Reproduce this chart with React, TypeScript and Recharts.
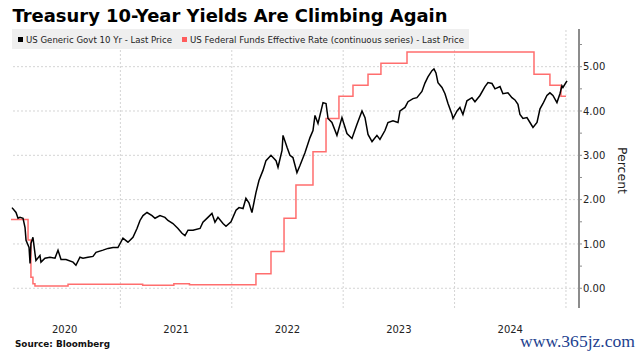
import React from 'react';
import { LineChart, Line, XAxis, YAxis, ReferenceLine, Legend } from 'recharts';

// US Generic Govt 10 Yr (decimal-year dates, percent)
const tenYearDates = [
  2020.027, 2020.063, 2020.081, 2020.099, 2020.126, 2020.144, 2020.153, 2020.180, 2020.189, 2020.197,
  2020.215, 2020.233, 2020.242, 2020.278, 2020.287, 2020.323, 2020.368, 2020.413, 2020.440, 2020.467,
  2020.512, 2020.575, 2020.601, 2020.637, 2020.664, 2020.709, 2020.754, 2020.781, 2020.844, 2020.889,
  2020.934, 2020.978, 2021.023, 2021.068, 2021.113, 2021.149, 2021.176, 2021.203, 2021.239, 2021.284,
  2021.311, 2021.355, 2021.400, 2021.427, 2021.472, 2021.517, 2021.553, 2021.580, 2021.607, 2021.652,
  2021.715, 2021.741, 2021.786, 2021.822, 2021.849, 2021.876, 2021.921, 2021.948, 2021.993, 2022.038,
  2022.065, 2022.101, 2022.127, 2022.154, 2022.181, 2022.217, 2022.244, 2022.280, 2022.307, 2022.352,
  2022.397, 2022.415, 2022.451, 2022.460, 2022.496, 2022.522, 2022.549, 2022.585, 2022.612, 2022.657,
  2022.702, 2022.729, 2022.747, 2022.774, 2022.819, 2022.846, 2022.864, 2022.899, 2022.944, 2022.989,
  2023.034, 2023.079, 2023.124, 2023.169, 2023.196, 2023.223, 2023.259, 2023.303, 2023.330, 2023.375,
  2023.402, 2023.447, 2023.492, 2023.510, 2023.555, 2023.582, 2023.627, 2023.662, 2023.707, 2023.734,
  2023.761, 2023.797, 2023.815, 2023.833, 2023.851, 2023.887, 2023.914, 2023.941, 2023.977, 2023.986,
  2024.022, 2024.048, 2024.075, 2024.111, 2024.156, 2024.183, 2024.228, 2024.273, 2024.300, 2024.336,
  2024.363, 2024.408, 2024.434, 2024.479, 2024.515, 2024.542, 2024.569, 2024.587, 2024.614, 2024.650,
  2024.677, 2024.704, 2024.740, 2024.767, 2024.794, 2024.829, 2024.856, 2024.883, 2024.919, 2024.946,
  2024.964, 2024.973, 2025.009,
];
const tenYearValues = [
  1.82, 1.71, 1.58, 1.60, 1.58, 1.37, 1.08, 0.92, 0.56, 1.01,
  1.15, 0.79, 0.63, 0.74, 0.59, 0.68, 0.70, 0.68, 0.86, 0.65,
  0.65, 0.59, 0.52, 0.70, 0.68, 0.70, 0.72, 0.81, 0.86, 0.90,
  0.92, 0.92, 1.13, 1.04, 1.15, 1.35, 1.53, 1.64, 1.71, 1.64,
  1.58, 1.64, 1.60, 1.53, 1.46, 1.35, 1.24, 1.19, 1.31, 1.31,
  1.35, 1.49, 1.60, 1.69, 1.49, 1.60, 1.46, 1.40, 1.50, 1.76,
  1.82, 1.80, 2.03, 1.93, 1.71, 2.16, 2.43, 2.66, 2.88, 3.00,
  2.88, 2.73, 3.11, 3.45, 3.18, 3.00, 2.95, 2.61, 2.77, 3.06,
  3.40, 3.56, 3.90, 3.72, 4.19, 4.17, 3.83, 3.74, 3.45, 3.85,
  3.49, 3.38, 3.70, 4.00, 3.85, 3.47, 3.31, 3.45, 3.36, 3.56,
  3.74, 3.78, 3.74, 4.00, 4.08, 4.21, 4.28, 4.30, 4.44, 4.63,
  4.77, 4.91, 4.95, 4.86, 4.64, 4.53, 4.39, 4.17, 3.92, 3.83,
  4.00, 4.08, 3.92, 4.23, 4.30, 4.21, 4.35, 4.55, 4.64, 4.62,
  4.50, 4.55, 4.39, 4.41, 4.30, 4.25, 4.15, 3.92, 3.83, 3.85,
  3.74, 3.63, 3.74, 4.05, 4.17, 4.35, 4.41, 4.35, 4.19, 4.39,
  4.57, 4.53, 4.68,
];

// US Federal Funds Effective Rate (change points, step series)
const fedFundsDates = [
  2020.018, 2020.171, 2020.197, 2020.215, 2020.233, 2020.368, 2020.530, 2020.800, 2021.200, 2021.480,
  2021.620, 2022.217, 2022.352, 2022.469, 2022.576, 2022.729, 2022.846, 2022.962, 2023.088, 2023.223,
  2023.339, 2023.573, 2024.713, 2024.856, 2024.955, 2025.000,
];
const fedFundsValues = [
  1.55, 1.09, 0.25, 0.10, 0.05, 0.05, 0.09, 0.09, 0.07, 0.10,
  0.08, 0.33, 0.83, 1.58, 2.33, 3.08, 3.83, 4.33, 4.58, 4.83,
  5.08, 5.33, 4.83, 4.58, 4.33, 4.33,
];

const yearTickPositions = [2020.5, 2021.5, 2022.5, 2023.5, 2024.5];
const yearLabels = ['2020', '2021', '2022', '2023', '2024'];
const yearBoundaries = [2021, 2022, 2023, 2024, 2025];
const yTicks = [0, 0.5, 1, 1.5, 2, 2.5, 3, 3.5, 4, 4.5, 5, 5.5];
const yGridValues = [0, 1, 2, 3, 4, 5];

const seriesNames = [
  'US Generic Govt 10 Yr - Last Price',
  'US Federal Funds Effective Rate (continuous series) - Last Price',
];
const titleText = 'Treasury 10-Year Yields Are Climbing Again';
const sourceText = 'Source: Bloomberg';
const watermarkText = 'www.365jz.com';

const tenYearData = tenYearDates.map((t, i) => ({ t, v: tenYearValues[i] }));
const fedFundsData = fedFundsDates.map((t, i) => ({ t, v: fedFundsValues[i] }));

const BLACK = '#000000';
const RED = '#ff6e6e';
const FONT = 'DejaVu Sans';

const renderLegend = () => (
  <svg width={642} height={52} style={{ display: 'block' }}>
    <rect x={12} y={29} width={457} height={20} fill="#efefef" />
    <rect x={18} y={37} width={5} height={5} fill={BLACK} />
    <text x={26} y={43} fontSize={9} fontFamily={FONT} fill="#222" textLength={146} lengthAdjust="spacingAndGlyphs">
      {seriesNames[0]}
    </text>
    <rect x={182} y={37} width={5} height={5} fill="#ff5c5c" />
    <text x={190} y={43} fontSize={9} fontFamily={FONT} fill="#222" textLength={274} lengthAdjust="spacingAndGlyphs">
      {seriesNames[1]}
    </text>
  </svg>
);

const PercentLabel = (props: any) => {
  const vb = props.viewBox || {};
  const cx = (vb.x ?? 579) + 43;
  const cy = (vb.y ?? 29) + (vb.height ?? 279) / 2 + 2;
  return (
    <text x={cx} y={cy} transform={`rotate(90, ${cx}, ${cy})`} textAnchor="middle" dominantBaseline="central"
      fontSize={12.5} fontFamily={FONT} fill="#222">
      Percent
    </text>
  );
};

export default function App() {
  return (
    <div style={{ position: 'absolute', left: 0, top: 0, width: 642, height: 356, background: '#fff' }}>
      <LineChart width={642} height={356} data={tenYearData} margin={{ top: 29, right: 0, bottom: 18, left: 11 }}>
        {yGridValues.map((v) => (
          <ReferenceLine key={'h' + v} y={v} stroke="#d4d4d4" strokeDasharray="2 2" strokeWidth={1} />
        ))}
        {yearBoundaries.map((v) => (
          <ReferenceLine key={'v' + v} x={v} stroke="#d4d4d4" strokeDasharray="2 2" strokeWidth={1} />
        ))}
        <XAxis
          type="number"
          dataKey="t"
          domain={[2020.018, 2025.117]}
          allowDataOverflow
          ticks={yearTickPositions}
          tickFormatter={(v: number) => yearLabels[yearTickPositions.indexOf(v)] ?? ''}
          axisLine={false}
          tickLine={false}
          tickSize={0}
          tickMargin={18}
          height={30}
          interval={0}
          tick={{ fontSize: 10, fontFamily: FONT, fill: '#222' }}
        />
        <YAxis
          orientation="right"
          type="number"
          domain={[-0.445, 5.85]}
          allowDataOverflow
          ticks={yTicks}
          interval={0}
          tickFormatter={(v: number) => (Number.isInteger(v) ? v.toFixed(2) : '')}
          width={63}
          axisLine={{ stroke: '#8c8c8c', strokeWidth: 2 }}
          tickLine={{ stroke: '#8c8c8c' }}
          tickSize={3}
          tickMargin={1}
          tick={{ fontSize: 10, fontFamily: FONT, fill: '#222' }}
          label={<PercentLabel />}
        />
        <Legend layout="horizontal" verticalAlign="middle" align="center" content={renderLegend}
          wrapperStyle={{ position: 'absolute', left: 0, top: 0, width: 642, height: 52 }} />
        <Line data={fedFundsData} dataKey="v" type="stepAfter" stroke={RED} strokeWidth={1.5} dot={false}
          isAnimationActive={false} name={seriesNames[1]} />
        <Line data={tenYearData} dataKey="v" type="linear" stroke={BLACK} strokeWidth={1.5} dot={false}
          isAnimationActive={false} name={seriesNames[0]} />
      </LineChart>
      <svg width={642} height={356} style={{ position: 'absolute', left: 0, top: 0, pointerEvents: 'none' }}>
        <text x={12.5} y={21.5} fontSize={17} fontWeight="bold" fontFamily={FONT} fill="#000" textLength={435}
          lengthAdjust="spacingAndGlyphs">{titleText}</text>
        <text x={15} y={347} fontSize={9} fontWeight="bold" fontFamily={FONT} fill="#111" textLength={95}
          lengthAdjust="spacingAndGlyphs">{sourceText}</text>
        <text x={520} y={347} fontSize={16} fontFamily="Liberation Serif" fill="#1d3f8f" textLength={115}
          lengthAdjust="spacingAndGlyphs">{watermarkText}</text>
      </svg>
    </div>
  );
}
